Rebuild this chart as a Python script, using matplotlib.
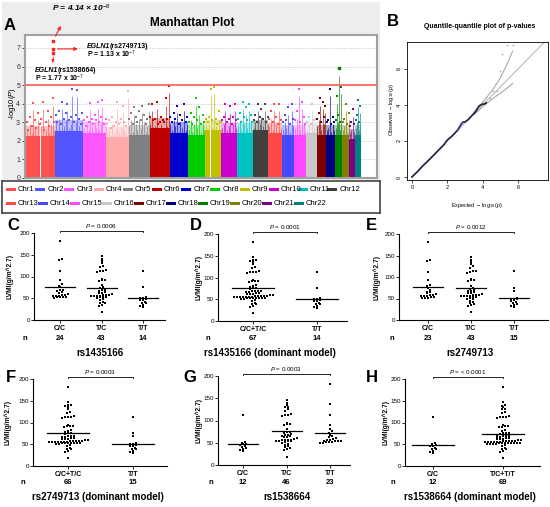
import numpy as np
import matplotlib
matplotlib.use('Agg')
import matplotlib.pyplot as plt
from matplotlib.patches import Rectangle

plt.rcParams['font.family'] = ['Liberation Sans', 'DejaVu Sans']
plt.rcParams['mathtext.fontset'] = 'custom'
plt.rcParams['mathtext.rm'] = 'Liberation Sans'
plt.rcParams['mathtext.it'] = 'Liberation Sans:italic'
plt.rcParams['mathtext.bf'] = 'Liberation Sans:bold'

# ---------------- data ----------------
chr_names = ['Chr%d' % i for i in range(1, 23)]
chr_len = [249, 243, 198, 191, 181, 171, 159, 146, 141, 135, 135, 133,
           115, 107, 102, 90, 81, 78, 59, 63, 48, 51]
chr_colors = ['#FF5050', '#5555FF', '#FF55FF', '#FFAAAA', '#808080', '#C00000',
              '#0000CC', '#00CC00', '#C0C000', '#CC00CC', '#00C0C0', '#404040',
              '#FF4848', '#4848FF', '#FF48FF', '#C8C8C8', '#800000', '#000080',
              '#008000', '#808000', '#800080', '#008080']
chr_dense = [2.25, 2.55, 2.45, 2.2, 2.3, 2.7, 2.45, 2.3, 2.6, 2.4, 2.4, 2.6,
             2.4, 2.3, 2.3, 2.4, 2.3, 2.3, 2.3, 2.3, 2.1, 2.3]
chr_snps = [
    [3.0, 2.6, 3.3, 2.8, 4.05, 3.1, 2.7, 3.5, 2.9, 3.2, 4.1, 2.6, 3.0, 3.6, 2.8, 3.3, 4.3, 3.0],
    [3.4, 3.0, 3.6, 2.9, 4.1, 3.2, 3.5, 4.0, 3.1, 3.3, 4.8, 3.0, 3.4, 4.75, 3.2, 2.9, 3.5],
    [3.1, 2.8, 3.3, 3.0, 4.05, 3.2, 2.9, 3.4, 3.1, 4.1, 3.0, 3.3, 4.2, 2.9, 3.2],
    [2.9, 3.1, 2.7, 3.3, 2.8, 3.0, 4.1, 2.9, 3.2, 3.9, 3.0, 2.8, 4.7],
    [3.2, 3.5, 2.9, 3.8, 3.3, 3.0, 3.6, 3.1, 3.9, 3.4, 2.9, 3.2, 4.0],
    [3.3, 4.0, 3.1, 3.2, 4.1, 2.9, 3.0, 3.3, 3.1, 3.0, 4.3, 3.2, 4.97],
    [3.3, 3.0, 3.5, 3.2, 3.9, 2.9, 3.4, 3.1, 4.0, 3.0, 3.3],
    [3.0, 3.5, 2.9, 3.3, 4.3, 3.1, 3.8, 2.9, 3.4, 3.0],
    [3.2, 3.0, 3.3, 4.8, 3.1, 4.9, 3.2, 2.9, 3.6, 3.0],
    [3.1, 3.3, 4.0, 3.0, 3.2, 3.9, 2.9, 3.3, 4.0, 3.1],
    [3.2, 3.5, 3.0, 4.1, 3.3, 3.8, 3.1, 4.0, 3.4, 3.0],
    [3.1, 3.4, 3.0, 4.0, 3.3, 3.7, 3.2, 4.0, 3.0, 3.3],
    [3.2, 3.6, 3.0, 4.0, 3.3, 2.9, 4.0, 3.1],
    [3.0, 3.4, 3.1, 3.8, 2.9, 4.0, 3.2],
    [3.1, 3.6, 4.8, 3.0, 4.1, 3.3, 2.9],
    [3.0, 3.3, 2.9, 4.0, 3.1, 3.2],
    [3.2, 3.5, 4.3, 3.0, 4.1, 3.3, 3.9],
    [3.0, 3.1, 4.8, 2.9, 3.3, 3.0],
    [3.1, 4.4, 3.4, 5.9, 3.0, 4.9],
    [3.0, 3.2, 4.0, 2.9, 3.5],
    [2.8, 3.0, 3.7, 2.9],
    [3.1, 3.4, 4.2, 3.0, 3.9],
]
egln1_pos = 231
egln1_logp = [7.38, 6.95, 6.75]

qq_exp = [0, 0.3, 0.6, 1.0, 1.4, 1.8, 2.0, 2.3, 2.6, 2.8, 2.9, 3.0, 3.2, 3.4, 3.6, 3.8, 3.9, 4.0, 4.1, 4.2]
qq_obs = [0, 0.28, 0.6, 0.98, 1.38, 1.78, 2.05, 2.3, 2.62, 2.95, 3.05, 3.05, 3.2, 3.42, 3.62, 3.95, 4.0, 4.05, 4.05, 4.12]
qq_tail_exp = [4.4, 4.6, 4.8, 5.0, 5.1, 5.4, 5.7]
qq_tail_obs = [4.4, 4.75, 4.8, 5.9, 6.85, 7.35, 7.35]
ci_exp = [3.5, 4.0, 4.5, 5.0, 5.4, 5.7]
ci_up = [3.6, 4.15, 4.75, 5.5, 6.3, 7.0]
ci_lo = [3.45, 3.9, 4.3, 4.65, 4.95, 5.2]

rs1435166_CC = [182, 140, 138, 112, 92, 82, 78, 75, 70, 68, 66, 64, 62, 60, 58, 57, 56, 55, 55, 54, 53, 52, 52, 51]
rs1435166_TC = [147, 140, 135, 130, 125, 122, 115, 113, 112, 110, 95, 93, 92, 90, 80, 75, 73, 70, 68, 67,
                65, 63, 62, 60, 58, 57, 57, 56, 56, 55, 55, 54, 53, 52, 50, 48, 45, 42, 40, 38, 35, 33, 18]
rs1435166_TT = [113, 75, 52, 50, 50, 48, 47, 45, 42, 40, 38, 35, 33, 31]

rs2749713_CC = [182, 140, 138, 112, 92, 82, 78, 75, 70, 66, 64, 62, 60, 58, 57, 56, 55, 55, 54, 53, 52, 52, 51]
rs2749713_TC = rs1435166_TC
rs2749713_TT = [113, 75, 68, 52, 50, 50, 48, 47, 45, 42, 40, 38, 35, 33, 31]

rs1538664_CC = [113, 52, 50, 48, 47, 45, 42, 40, 38, 35, 33, 31]
rs1538664_TC = rs1435166_TC + [130, 75, 66]
rs1538664_TT = [182, 138, 112, 90, 82, 76, 72, 68, 65, 62, 60, 58, 57, 56, 55, 54, 54, 53, 52, 52, 51, 50, 50]

# ---------------- helpers ----------------
W, H = 550, 507
fig = plt.figure(figsize=(5.5, 5.07), dpi=100)


def box(x0, y0, x1, y1):
    return [x0 / W, 1 - y1 / H, (x1 - x0) / W, (y1 - y0) / H]


def ftext(x, y, s, **kw):
    return fig.text(x / W, 1 - y / H, s, **kw)


# ---------------- panel A ----------------
fig.patches.append(Rectangle((2 / W, 1 - 180 / H), 378 / W, 178 / H, transform=fig.transFigure,
                             facecolor='#EDEDED', edgecolor='none', zorder=-5))
ax = fig.add_axes(box(25, 35, 377, 178))
ax.set_zorder(2)
ax.set_facecolor('white')
starts = np.concatenate([[0], np.cumsum(chr_len)[:-1]])
total = sum(chr_len)
ax.set_xlim(-8, total * 1.048)
ax.set_ylim(0, 7.7)
for y in [1, 2, 3, 4, 6, 7]:
    ax.axhline(y, color='#C4C4C4', lw=0.7, ls=(0, (1, 1.5)), zorder=0)
for i in range(22):
    s, L, c = starts[i], chr_len[i], chr_colors[i]
    ax.add_patch(Rectangle((s, 0), L, chr_dense[i], facecolor=c, edgecolor='none', zorder=1))
    ax.add_patch(Rectangle((s, chr_dense[i]), L, 0.55, facecolor=c, edgecolor='none', alpha=0.35, zorder=1))
    vals = np.array(chr_snps[i])
    xs = s + (np.arange(len(vals)) + 0.5) / len(vals) * L
    ax.vlines(xs, chr_dense[i] - 0.1, vals - 0.4, colors=c, lw=0.6, alpha=0.75, zorder=1)
    ax.scatter(xs, vals, marker='s', s=2.2, color=c, linewidths=0, zorder=2)
# centromere gaps
ax.add_patch(Rectangle((starts[0] + 123, 0), 8, 2.8, facecolor='white', edgecolor='none', zorder=1.5))
ax.add_patch(Rectangle((starts[8] + 45, 0), 5, 3.2, facecolor='white', edgecolor='none', zorder=1.5))
ax.axhline(5, color='#FF5A5A', lw=1.2, zorder=3)
ax.scatter([starts[18] + 30], [5.9], marker='s', s=4, color='#008000', zorder=3)
ax.scatter([egln1_pos] * 3, egln1_logp, marker='s', s=4, color='#FF2020', zorder=4)
ax.plot([egln1_pos] * 2, [egln1_logp[-1], 6.3], color='#FF2020', lw=0.8, ls=(0, (1.5, 1.5)), zorder=4)
ax.annotate('', xy=(egln1_pos, 6.22), xytext=(egln1_pos, 6.4),
            arrowprops=dict(arrowstyle='-|>', color='#FF2020', lw=0.6, mutation_scale=4), zorder=4)
ax.annotate('', xy=(470, egln1_logp[1]), xytext=(egln1_pos + 15, egln1_logp[1]),
            arrowprops=dict(arrowstyle='-|>', color='#FF2020', lw=0.8, mutation_scale=5), zorder=4)
ax.annotate('', xy=(310, 8.33), xytext=(egln1_pos + 12, 7.5),
            arrowprops=dict(arrowstyle='-|>', color='#FF2020', lw=0.8, mutation_scale=5),
            annotation_clip=False, zorder=4)
t1 = ax.text(520, 7.1, 'EGLN1', fontsize=5, fontweight='bold', fontstyle='italic', va='center')
ax.annotate('(rs2749713)', xy=(1, 0.5), xycoords=t1, fontsize=5, fontweight='bold', va='center')
ax.text(520, 6.68, r'P = 1.13 x 10$^{-7}$', fontsize=5, fontweight='bold', va='center')
t2 = ax.text(75, 5.78, 'EGLN1', fontsize=5, fontweight='bold', fontstyle='italic', va='center')
ax.annotate('(rs1538664)', xy=(1, 0.5), xycoords=t2, fontsize=5, fontweight='bold', va='center')
ax.text(75, 5.34, r'P = 1.77 x 10$^{-7}$', fontsize=5, fontweight='bold', va='center')
ax.set_xticks([])
ax.set_yticks(range(8))
ax.tick_params(axis='y', labelsize=5, length=2, width=0.6, pad=1.5, colors='#333333')
for sp in ax.spines.values():
    sp.set_color('#A0A0A0')
    sp.set_linewidth(1.5)
ftext(12, 104, r'-log10($P$)', fontsize=5.5, rotation=90, ha='center', va='center')
ftext(192, 23, 'Manhattan Plot', fontsize=8.5, fontweight='bold', ha='center', va='center')
ftext(10, 25, 'A', fontsize=12, fontweight='bold', ha='center', va='center')
ftext(52, 8, r'P = 4.14 × 10$^{-8}$', fontsize=6, fontweight='bold', fontstyle='italic', va='center')

# legend
lax = fig.add_axes(box(2, 181, 380, 213))
lax.set_xlim(0, 378)
lax.set_ylim(32, 0)
lax.set_xticks([])
lax.set_yticks([])
for sp in lax.spines.values():
    sp.set_color('#444444')
    sp.set_linewidth(1.2)
for i in range(22):
    if i < 12:
        x, y = 4 + i * 29.2, 9
    else:
        x, y = 4 + (i - 12) * 32, 23
    lax.add_patch(Rectangle((x, y - 1.5), 10, 3, facecolor=chr_colors[i], edgecolor='none'))
    lax.text(x + 12, y, chr_names[i], fontsize=5.5, va='center', ha='left')

# ---------------- panel B ----------------
qax = fig.add_axes(box(407, 42, 548, 180))
qax.set_xlim(-0.28, 7.7)
qax.set_ylim(-0.17, 7.5)
qax.plot([0, 7.7], [0, 7.7 * 1.0], color='#BBBBBB', lw=0.8, zorder=1)
qax.plot(ci_exp, ci_up, color='#AAAAAA', lw=0.8, zorder=1)
qax.plot(ci_exp, ci_lo, color='#AAAAAA', lw=0.8, zorder=1)
qax.plot(qq_exp, qq_obs, color='#202040', lw=1.2, zorder=2)
qax.plot(qq_exp[8:11], qq_obs[8:11], color='#4444AA', lw=1.2, zorder=3)
qax.scatter(qq_tail_exp, qq_tail_obs, s=1.5, color='#AAAAAA', linewidths=0, zorder=2)
qax.set_xticks([0, 2, 4, 6])
qax.set_yticks([0, 2, 4, 6])
qax.tick_params(labelsize=4, length=2, width=0.5, pad=1.5)
for lab in qax.get_yticklabels():
    lab.set_rotation(90)
    lab.set_va('center')
for sp in qax.spines.values():
    sp.set_linewidth(0.6)
ftext(480, 26, 'Quantile-quantile plot of p-values', fontsize=5, fontweight='bold', ha='center', va='center')
ftext(477, 205, r'Expected  $-\ \log_{10}(p)$', fontsize=4, ha='center', va='center')
ftext(392, 110, r'Observed  $-\ \log_{10}(p)$', fontsize=4, ha='center', va='center', rotation=90)
ftext(393, 22, 'B', fontsize=12, fontweight='bold', ha='center', va='center')


# ---------------- dot plots ----------------
def swarm(vals, binw):
    vals = np.asarray(vals, float)
    offs = np.zeros(len(vals))
    bins = np.floor(vals / binw).astype(int)
    for b in np.unique(bins):
        idx = np.where(bins == b)[0]
        idx = idx[np.argsort(vals[idx])]
        k = len(idx)
        offs[idx] = np.arange(k) - (k - 1) / 2
    return offs


def dotpanel(ax_x, y200, y0, xend, gpx, groups, labels, counts, title, title_x,
             ptext, letter, letter_xy, n_x, ylab_x, row):
    ax = fig.add_axes(box(ax_x, y200, xend, y0))
    k = len(groups)
    sp_px = (gpx[-1] - gpx[0]) / (k - 1)
    ax.set_xlim(-(gpx[0] - ax_x) / sp_px, (xend - gpx[0]) / sp_px)
    ax.set_ylim(0, 200)
    dx = 3.0 / sp_px
    for gi, vals in enumerate(groups):
        offs = swarm(vals, 5.5)
        ax.scatter(gi + offs * dx, vals, marker='s', s=2.8, color='black', linewidths=0, clip_on=False, zorder=3)
        m = np.mean(vals)
        hw = (21 if k == 2 else 15) / sp_px
        ax.plot([gi - hw, gi + hw], [m, m], color='black', lw=0.9, zorder=2)
    ax.spines['top'].set_visible(False)
    ax.spines['right'].set_visible(False)
    for s in ['left', 'bottom']:
        ax.spines[s].set_linewidth(0.8)
    ax.set_yticks([0, 50, 100, 150, 200])
    ax.set_xticks(range(k))
    ax.set_xticklabels(labels, fontsize=5, fontweight='bold')
    ax.tick_params(axis='y', labelsize=4.5, length=2, width=0.6, pad=1)
    ax.tick_params(axis='x', length=2, width=0.6, pad=1.5)
    scale = (y0 - y200) / 200.0
    # bracket
    yb = (y0 - (y200 - 2.5)) / scale
    ax.plot([0, 0, k - 1, k - 1], [yb - 3.5, yb, yb, yb - 3.5], color='black', lw=0.6, clip_on=False)
    ax.text((k - 1) / 2, yb + 2, ptext, fontsize=4.5, ha='center', va='bottom', clip_on=False)
    # n row
    rows = {'top': (339, 353), 'bot': (483, 497)}[row]
    for gi, c in enumerate(counts):
        ax.text(gi, (y0 - rows[0]) / (y0 - y200), str(c), transform=ax.get_xaxis_transform(),
                fontsize=5.5, fontweight='bold', ha='center', va='center')
    ftext(n_x, rows[0], 'n', fontsize=5.5, fontweight='bold', ha='center', va='center')
    ftext(title_x, rows[1], title, fontsize=7, fontweight='bold', ha='center', va='center')
    ftext(letter_xy[0], letter_xy[1], letter, fontsize=12, fontweight='bold', ha='center', va='center')
    ftext(ylab_x, (y0 + y200) / 2, 'LVMI(g/m^2.7)', fontsize=4.8, fontweight='bold',
          rotation=90, ha='center', va='center')


dotpanel(34, 233, 320, 165, [60, 100, 143],
         [rs1435166_CC, rs1435166_TC, rs1435166_TT], ['C/C', 'T/C', 'T/T'],
         [len(rs1435166_CC), len(rs1435166_TC), len(rs1435166_TT)],
         'rs1435166', 100, r'$P$ = 0.0006', 'C', (13, 226), 25, 10, 'top')
dotpanel(218, 234, 321, 347, [253, 317],
         [rs1435166_CC + rs1435166_TC, rs1435166_TT], ['C/C+T/C', 'T/T'],
         [len(rs1435166_CC) + len(rs1435166_TC), len(rs1435166_TT)],
         'rs1435166 (dominant model)', 270, r'$P$ = 0.0001', 'D', (196, 226), 208, 199, 'top')
dotpanel(399, 234, 320, 548, [428, 468, 514],
         [rs2749713_CC, rs2749713_TC, rs2749713_TT], ['C/C', 'T/C', 'T/T'],
         [len(rs2749713_CC), len(rs2749713_TC), len(rs2749713_TT)],
         'rs2749713', 470, r'$P$ = 0.0012', 'E', (371, 226), 392, 377, 'top')
dotpanel(33, 379, 466, 167, [68, 133],
         [rs2749713_CC + rs2749713_TC, rs2749713_TT], ['C/C+T/C', 'T/T'],
         [len(rs2749713_CC) + len(rs2749713_TC), len(rs2749713_TT)],
         'rs2749713 (dominant model)', 98, r'$P$ = 0.0003', 'F', (11, 378), 23, 8, 'bot')
dotpanel(218, 376, 465, 350, [243, 287, 330],
         [rs1538664_CC, rs1538664_TC, rs1538664_TT], ['C/C', 'T/C', 'T/T'],
         [len(rs1538664_CC), len(rs1538664_TC), len(rs1538664_TT)],
         'rs1538664', 287, r'$P$ = 0.0003', 'G', (190, 378), 211, 199, 'bot')
dotpanel(405, 379, 466, 540, [433, 503],
         [rs1538664_CC, rs1538664_TC + rs1538664_TT], ['C/C', 'T/C+T/T'],
         [len(rs1538664_CC), len(rs1538664_TC) + len(rs1538664_TT)],
         'rs1538664 (dominant model)', 470, r'$P$ = < 0.0001', 'H', (372, 378), 393, 386, 'bot')

fig.savefig('out.png', dpi=100)
